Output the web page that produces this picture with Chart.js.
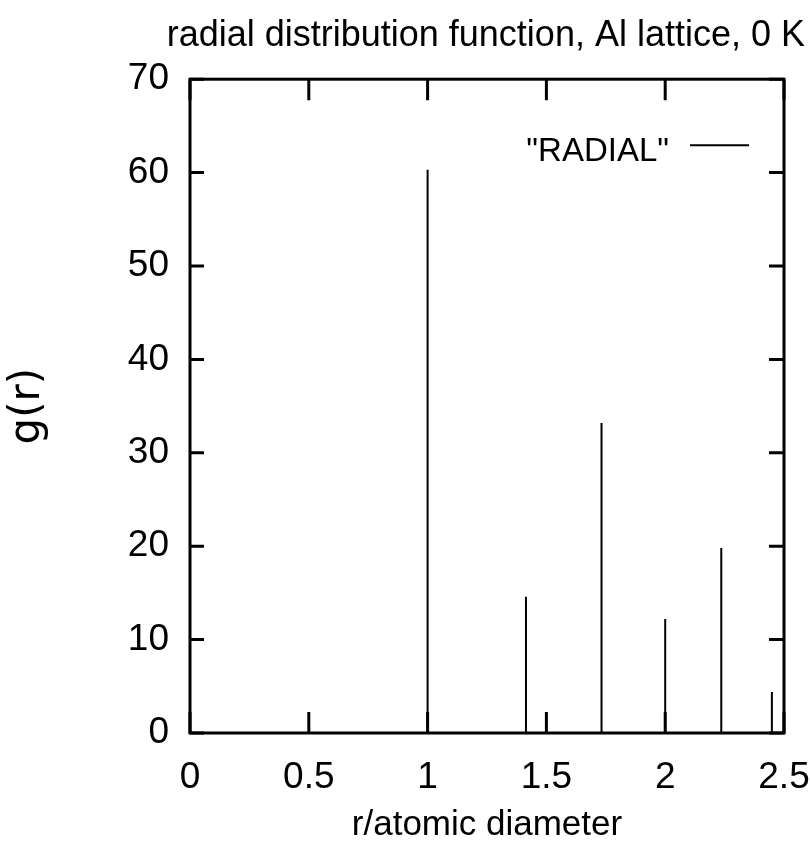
<!DOCTYPE html>
<html>
<head>
<meta charset="utf-8">
<script src="https://cdn.jsdelivr.net/npm/chart.js@4.4.1/dist/chart.umd.min.js"></script>
<style>
  html, body { margin: 0; padding: 0; background: #ffffff; }
  #wrap { width: 810px; height: 847px; }
</style>
</head>
<body>
<div id="wrap"><canvas id="c" width="810" height="847"></canvas></div>
<script>
// ---- data ----
const titleText = 'radial distribution function, Al lattice, 0 K';
const xTitle = 'r/atomic diameter';
const yTitle = 'g(r)';
const seriesLabel = '"RADIAL"';
const peakR = [1.0, 1.414, 1.732, 2.0, 2.236, 2.449];
const peakG = [60.3, 14.6, 33.2, 12.2, 19.8, 4.4];
const rStart = 0;
const rEnd = 2.5;
const xTicks = [0, 0.5, 1, 1.5, 2, 2.5];
const yTicks = [0, 10, 20, 30, 40, 50, 60, 70];

// build the line (zero baseline with vertical spikes)
const linePts = [{x: rStart, y: 0}];
peakR.forEach((r, i) => {
  linePts.push({x: r, y: 0});
  linePts.push({x: r, y: peakG[i]});
  linePts.push({x: r, y: 0});
});
linePts.push({x: rEnd, y: 0});

const SANS = "'Liberation Sans', Arial, Helvetica, sans-serif";

const framePlugin = {
  id: 'frameTicks',
  afterDatasetsDraw(chart) {
    const {ctx, chartArea: a, scales} = chart;
    const xs = scales.x, ys = scales.y;
    ctx.save();
    ctx.strokeStyle = '#000';
    ctx.lineWidth = 3;
    ctx.lineCap = 'butt';
    ctx.beginPath();
    xTicks.forEach(v => {
      const px = xs.getPixelForValue(v);
      ctx.moveTo(px, a.bottom); ctx.lineTo(px, a.bottom - 21);
      ctx.moveTo(px, a.top); ctx.lineTo(px, a.top + 21);
    });
    yTicks.forEach(v => {
      const py = ys.getPixelForValue(v);
      ctx.moveTo(a.left, py); ctx.lineTo(a.left + 14, py);
      ctx.moveTo(a.right, py); ctx.lineTo(a.right - 15, py);
    });
    ctx.stroke();
    ctx.strokeRect(a.left, a.top, a.right - a.left, a.bottom - a.top);
    // legend inside the plot, top right
    const ds = chart.data.datasets[0];
    ctx.fillStyle = '#000';
    ctx.font = '33px ' + SANS;
    ctx.textAlign = 'right';
    ctx.textBaseline = 'alphabetic';
    ctx.fillText(ds.label, a.right - 115, a.top + 82);
    ctx.lineWidth = 2;
    ctx.beginPath();
    ctx.moveTo(a.right - 94, a.top + 66);
    ctx.lineTo(a.right - 35, a.top + 66);
    ctx.stroke();
    ctx.restore();
  }
};

new Chart(document.getElementById('c'), {
  type: 'line',
  data: {
    datasets: [{
      label: seriesLabel,
      data: linePts,
      borderColor: '#000',
      borderWidth: 2,
      pointRadius: 0,
      tension: 0,
      fill: false
    }]
  },
  options: {
    responsive: false,
    animation: false,
    devicePixelRatio: 1,
    layout: { padding: { left: 0, right: 5, top: 0, bottom: 0 } },
    plugins: {
      legend: { display: false },
      tooltip: { enabled: false },
      title: {
        display: true,
        text: titleText,
        align: 'end',
        color: '#000',
        font: { family: SANS, size: 36, weight: 'normal', lineHeight: 1.2 },
        padding: { top: 14, bottom: 22 }
      }
    },
    scales: {
      x: {
        type: 'linear',
        min: rStart,
        max: rEnd,
        afterBuildTicks: s => { s.ticks = xTicks.map(v => ({value: v})); },
        afterFit: s => { s.height = 114; s.paddingLeft = 0; s.paddingRight = 0; },
        grid: { display: false, drawTicks: false },
        border: { display: false },
        ticks: {
          color: '#000',
          padding: 23,
          maxRotation: 0,
          autoSkip: false,
          font: { family: SANS, size: 37 },
          callback: v => String(v)
        },
        title: {
          display: true,
          text: xTitle,
          color: '#000',
          font: { family: SANS, size: 35, lineHeight: 1.2 },
          padding: { top: 0, bottom: 1 }
        }
      },
      y: {
        type: 'linear',
        min: 0,
        max: 70,
        afterBuildTicks: s => { s.ticks = yTicks.map(v => ({value: v})); },
        afterFit: s => { s.width = 190; },
        grid: { display: false, drawTicks: false },
        border: { display: false },
        ticks: {
          color: '#000',
          padding: 21,
          autoSkip: false,
          font: { family: SANS, size: 37 },
          callback: v => String(v)
        },
        title: {
          display: true,
          text: yTitle,
          color: '#000',
          font: { family: "'DejaVu Sans', 'Liberation Sans', sans-serif", size: 42, lineHeight: 1.2 },
          padding: { top: 3, bottom: 0 }
        }
      },
      y2: {
        type: 'linear',
        position: 'right',
        min: 0,
        max: 70,
        afterFit: s => { s.width = 21; },
        grid: { display: false, drawTicks: false },
        border: { display: false },
        ticks: { display: false }
      }
    }
  },
  plugins: [framePlugin]
});
</script>
</body>
</html>
